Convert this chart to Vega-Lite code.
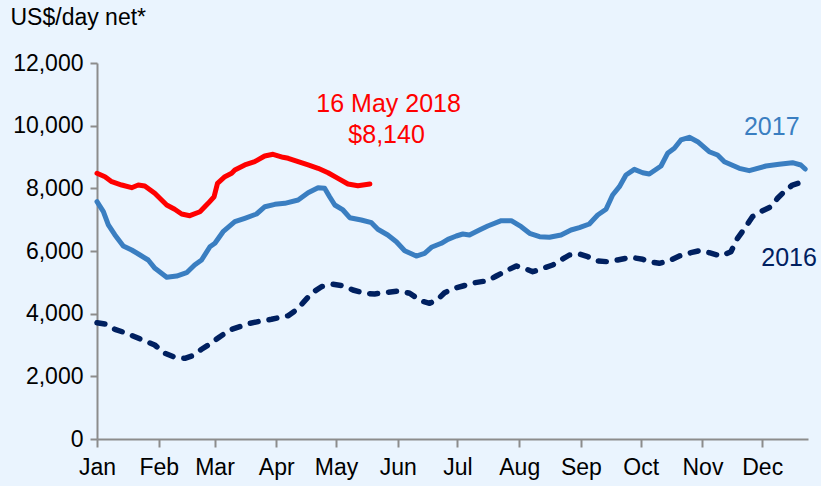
{
  "$schema": "https://vega.github.io/schema/vega-lite/v6.json",
  "width": 711,
  "height": 376,
  "autosize": {"type": "none"},
  "padding": {"left": 97, "top": 63, "right": 13, "bottom": 47},
  "background": "#EAF4FE",
  "config": {
    "view": {"stroke": null},
    "font": "Liberation Sans",
    "axis": {"labelFont": "Liberation Sans", "titleFont": "Liberation Sans"}
  },
  "datasets": {
    "lines": [
      {"series": "2018", "day": 0, "value": 8480},
      {"series": "2018", "day": 4, "value": 8371},
      {"series": "2018", "day": 7.4, "value": 8212},
      {"series": "2018", "day": 12.4, "value": 8106},
      {"series": "2018", "day": 17.4, "value": 8020},
      {"series": "2018", "day": 20.7, "value": 8106},
      {"series": "2018", "day": 24, "value": 8074},
      {"series": "2018", "day": 29, "value": 7842},
      {"series": "2018", "day": 35, "value": 7468},
      {"series": "2018", "day": 39, "value": 7331},
      {"series": "2018", "day": 42.5, "value": 7181},
      {"series": "2018", "day": 46.6, "value": 7127},
      {"series": "2018", "day": 51.7, "value": 7254},
      {"series": "2018", "day": 55.8, "value": 7522},
      {"series": "2018", "day": 58.8, "value": 7733},
      {"series": "2018", "day": 60.5, "value": 8161},
      {"series": "2018", "day": 64.2, "value": 8371},
      {"series": "2018", "day": 67.6, "value": 8480},
      {"series": "2018", "day": 69.2, "value": 8585},
      {"series": "2018", "day": 74.2, "value": 8745},
      {"series": "2018", "day": 79.2, "value": 8850},
      {"series": "2018", "day": 84.2, "value": 9032},
      {"series": "2018", "day": 88.4, "value": 9086},
      {"series": "2018", "day": 93.4, "value": 8990},
      {"series": "2018", "day": 96, "value": 8958},
      {"series": "2018", "day": 101, "value": 8850},
      {"series": "2018", "day": 106, "value": 8745},
      {"series": "2018", "day": 111, "value": 8639},
      {"series": "2018", "day": 116, "value": 8499},
      {"series": "2018", "day": 121, "value": 8320},
      {"series": "2018", "day": 126, "value": 8138},
      {"series": "2018", "day": 131, "value": 8084},
      {"series": "2018", "day": 137, "value": 8140},

      {"series": "2017", "day": 0, "value": 7574},
      {"series": "2017", "day": 3.2, "value": 7254},
      {"series": "2017", "day": 5.7, "value": 6830},
      {"series": "2017", "day": 9, "value": 6511},
      {"series": "2017", "day": 13.2, "value": 6160},
      {"series": "2017", "day": 17.4, "value": 6032},
      {"series": "2017", "day": 21.6, "value": 5872},
      {"series": "2017", "day": 25.7, "value": 5713},
      {"series": "2017", "day": 29.1, "value": 5448},
      {"series": "2017", "day": 35, "value": 5161},
      {"series": "2017", "day": 40, "value": 5202},
      {"series": "2017", "day": 45, "value": 5307},
      {"series": "2017", "day": 49, "value": 5553},
      {"series": "2017", "day": 52.5, "value": 5713},
      {"series": "2017", "day": 56.7, "value": 6137},
      {"series": "2017", "day": 59.2, "value": 6246},
      {"series": "2017", "day": 63.3, "value": 6616},
      {"series": "2017", "day": 69.2, "value": 6935},
      {"series": "2017", "day": 74.2, "value": 7044},
      {"series": "2017", "day": 80.1, "value": 7181},
      {"series": "2017", "day": 84.3, "value": 7414},
      {"series": "2017", "day": 89.3, "value": 7490},
      {"series": "2017", "day": 94.3, "value": 7522},
      {"series": "2017", "day": 101, "value": 7628},
      {"series": "2017", "day": 106, "value": 7861},
      {"series": "2017", "day": 111, "value": 8020},
      {"series": "2017", "day": 114.3, "value": 8001},
      {"series": "2017", "day": 116.8, "value": 7733},
      {"series": "2017", "day": 119.4, "value": 7468},
      {"series": "2017", "day": 123.5, "value": 7309},
      {"series": "2017", "day": 126.9, "value": 7063},
      {"series": "2017", "day": 132.7, "value": 6989},
      {"series": "2017", "day": 137.8, "value": 6903},
      {"series": "2017", "day": 141, "value": 6693},
      {"series": "2017", "day": 146, "value": 6511},
      {"series": "2017", "day": 150.3, "value": 6297},
      {"series": "2017", "day": 154.5, "value": 6010},
      {"series": "2017", "day": 160.3, "value": 5840},
      {"series": "2017", "day": 164.5, "value": 5926},
      {"series": "2017", "day": 167.9, "value": 6118},
      {"series": "2017", "day": 172.9, "value": 6246},
      {"series": "2017", "day": 176.2, "value": 6373},
      {"series": "2017", "day": 180.4, "value": 6479},
      {"series": "2017", "day": 183.7, "value": 6543},
      {"series": "2017", "day": 187, "value": 6511},
      {"series": "2017", "day": 192, "value": 6670},
      {"series": "2017", "day": 196.2, "value": 6798},
      {"series": "2017", "day": 203, "value": 6967},
      {"series": "2017", "day": 208, "value": 6967},
      {"series": "2017", "day": 213, "value": 6776},
      {"series": "2017", "day": 217.2, "value": 6565},
      {"series": "2017", "day": 222.2, "value": 6456},
      {"series": "2017", "day": 227.2, "value": 6437},
      {"series": "2017", "day": 233, "value": 6511},
      {"series": "2017", "day": 238, "value": 6670},
      {"series": "2017", "day": 242.2, "value": 6744},
      {"series": "2017", "day": 247.2, "value": 6862},
      {"series": "2017", "day": 251.4, "value": 7149},
      {"series": "2017", "day": 255.6, "value": 7331},
      {"series": "2017", "day": 258.9, "value": 7787},
      {"series": "2017", "day": 262.3, "value": 8052},
      {"series": "2017", "day": 265.6, "value": 8426},
      {"series": "2017", "day": 269.8, "value": 8607},
      {"series": "2017", "day": 274, "value": 8499},
      {"series": "2017", "day": 277.3, "value": 8457},
      {"series": "2017", "day": 283.2, "value": 8713},
      {"series": "2017", "day": 286.5, "value": 9118},
      {"series": "2017", "day": 289.9, "value": 9278},
      {"series": "2017", "day": 293.2, "value": 9543},
      {"series": "2017", "day": 297.4, "value": 9629},
      {"series": "2017", "day": 301.6, "value": 9488},
      {"series": "2017", "day": 307.4, "value": 9169},
      {"series": "2017", "day": 311.6, "value": 9064},
      {"series": "2017", "day": 315, "value": 8850},
      {"series": "2017", "day": 322.5, "value": 8639},
      {"series": "2017", "day": 327.5, "value": 8563},
      {"series": "2017", "day": 335.9, "value": 8713},
      {"series": "2017", "day": 342.5, "value": 8767},
      {"series": "2017", "day": 349.2, "value": 8818},
      {"series": "2017", "day": 353.4, "value": 8745},
      {"series": "2017", "day": 355.6, "value": 8617},

      {"series": "2016", "day": 0, "value": 3712},
      {"series": "2016", "day": 4, "value": 3670},
      {"series": "2016", "day": 9, "value": 3501},
      {"series": "2016", "day": 14, "value": 3393},
      {"series": "2016", "day": 19, "value": 3265},
      {"series": "2016", "day": 24, "value": 3128},
      {"series": "2016", "day": 29, "value": 3000},
      {"series": "2016", "day": 34.1, "value": 2735},
      {"series": "2016", "day": 39.1, "value": 2607},
      {"series": "2016", "day": 44.1, "value": 2576},
      {"series": "2016", "day": 47.5, "value": 2649},
      {"series": "2016", "day": 52.5, "value": 2863},
      {"series": "2016", "day": 56.7, "value": 3032},
      {"series": "2016", "day": 61.7, "value": 3265},
      {"series": "2016", "day": 66.7, "value": 3479},
      {"series": "2016", "day": 71.7, "value": 3584},
      {"series": "2016", "day": 76.7, "value": 3693},
      {"series": "2016", "day": 82.6, "value": 3766},
      {"series": "2016", "day": 87.6, "value": 3820},
      {"series": "2016", "day": 93.4, "value": 3903},
      {"series": "2016", "day": 96, "value": 3935},
      {"series": "2016", "day": 100, "value": 4117},
      {"series": "2016", "day": 103.5, "value": 4350},
      {"series": "2016", "day": 107.7, "value": 4650},
      {"series": "2016", "day": 112.7, "value": 4861},
      {"series": "2016", "day": 118.5, "value": 4937},
      {"series": "2016", "day": 123.5, "value": 4893},
      {"series": "2016", "day": 128.5, "value": 4755},
      {"series": "2016", "day": 134.4, "value": 4650},
      {"series": "2016", "day": 139.4, "value": 4628},
      {"series": "2016", "day": 146, "value": 4682},
      {"series": "2016", "day": 152, "value": 4723},
      {"series": "2016", "day": 157, "value": 4650},
      {"series": "2016", "day": 162.8, "value": 4404},
      {"series": "2016", "day": 167, "value": 4331},
      {"series": "2016", "day": 171.2, "value": 4459},
      {"series": "2016", "day": 174.5, "value": 4669},
      {"series": "2016", "day": 179.5, "value": 4810},
      {"series": "2016", "day": 183.7, "value": 4883},
      {"series": "2016", "day": 189.6, "value": 4988},
      {"series": "2016", "day": 196.2, "value": 5052},
      {"series": "2016", "day": 200.5, "value": 5202},
      {"series": "2016", "day": 206.3, "value": 5394},
      {"series": "2016", "day": 210.5, "value": 5521},
      {"series": "2016", "day": 214.6, "value": 5448},
      {"series": "2016", "day": 218.8, "value": 5339},
      {"series": "2016", "day": 223.8, "value": 5448},
      {"series": "2016", "day": 228.8, "value": 5553},
      {"series": "2016", "day": 233, "value": 5713},
      {"series": "2016", "day": 237.2, "value": 5872},
      {"series": "2016", "day": 242.2, "value": 5904},
      {"series": "2016", "day": 246.4, "value": 5818},
      {"series": "2016", "day": 251.4, "value": 5681},
      {"series": "2016", "day": 256.4, "value": 5658},
      {"series": "2016", "day": 261.4, "value": 5713},
      {"series": "2016", "day": 268.2, "value": 5799},
      {"series": "2016", "day": 274, "value": 5735},
      {"series": "2016", "day": 277.3, "value": 5658},
      {"series": "2016", "day": 282.3, "value": 5607},
      {"series": "2016", "day": 287.4, "value": 5690},
      {"series": "2016", "day": 292.4, "value": 5840},
      {"series": "2016", "day": 298.2, "value": 5946},
      {"series": "2016", "day": 302.4, "value": 6010},
      {"series": "2016", "day": 307.4, "value": 5946},
      {"series": "2016", "day": 313.3, "value": 5840},
      {"series": "2016", "day": 318.3, "value": 5978},
      {"series": "2016", "day": 321.6, "value": 6405},
      {"series": "2016", "day": 325.8, "value": 6776},
      {"series": "2016", "day": 329.1, "value": 7095},
      {"series": "2016", "day": 334.2, "value": 7286},
      {"series": "2016", "day": 338.4, "value": 7414},
      {"series": "2016", "day": 341.7, "value": 7682},
      {"series": "2016", "day": 345, "value": 7893},
      {"series": "2016", "day": 349.2, "value": 8106},
      {"series": "2016", "day": 352.9, "value": 8180}
    ],
    "labels": [
      {"series": "2018", "day": 146.4, "value": 10436, "text": "16 May 2018"},
      {"series": "2018", "day": 145.4, "value": 9447, "text": "$8,140"},
      {"series": "2017", "day": 338.8, "value": 9702, "text": "2017"},
      {"series": "2016", "day": 347.5, "value": 5521, "text": "2016"}
    ]
  },
  "encoding": {
    "x": {
      "field": "day",
      "type": "quantitative",
      "scale": {"domain": [0, 357], "nice": false, "zero": false},
      "axis": {
        "title": null,
        "values": [0, 31, 59, 90, 120, 151, 181, 212, 243, 273, 304, 334],
        "labelExpr": "['Jan','Feb','Mar','Apr','May','Jun','Jul','Aug','Sep','Oct','Nov','Dec'][indexof([0,31,59,90,120,151,181,212,243,273,304,334], datum.value)]",
        "grid": false,
        "domainColor": "#8C8C8C",
        "domainWidth": 2,
        "tickColor": "#8C8C8C",
        "tickWidth": 2,
        "tickSize": 8,
        "labelFontSize": 23,
        "labelColor": "#000000",
        "labelPadding": 9,
        "labelFlush": false,
        "labelOverlap": false
      }
    },
    "y": {
      "field": "value",
      "type": "quantitative",
      "scale": {"domain": [0, 12000], "nice": false},
      "axis": {
        "title": "US$/day net*",
        "titleAngle": 0,
        "titleAlign": "left",
        "titleBaseline": "alphabetic",
        "titleX": -87,
        "titleY": -39,
        "titleFontSize": 23,
        "titleFontWeight": "normal",
        "titleColor": "#000000",
        "values": [0, 2000, 4000, 6000, 8000, 10000, 12000],
        "format": ",.0f",
        "grid": false,
        "domainColor": "#8C8C8C",
        "domainWidth": 2,
        "tickColor": "#8C8C8C",
        "tickWidth": 2,
        "tickSize": 7,
        "labelFontSize": 23,
        "labelColor": "#000000",
        "labelPadding": 7,
        "labelFlush": false
      }
    },
    "color": {
      "field": "series",
      "type": "nominal",
      "scale": {"domain": ["2018", "2017", "2016"], "range": ["#FF0000", "#3A7EC1", "#002060"]},
      "legend": null
    }
  },
  "layer": [
    {
      "data": {"name": "lines"},
      "transform": [{"filter": "datum.series != '2016'"}],
      "mark": {"type": "line", "strokeWidth": 5, "strokeJoin": "round", "strokeCap": "round"},
      "encoding": {"detail": {"field": "series"}}
    },
    {
      "data": {"name": "lines"},
      "transform": [{"filter": "datum.series == '2016'"}],
      "mark": {"type": "line", "strokeWidth": 5.5, "strokeDash": [8, 11], "strokeCap": "round", "strokeJoin": "round"},
      "encoding": {}
    },
    {
      "data": {"name": "labels"},
      "mark": {"type": "text", "fontSize": 25, "align": "center", "baseline": "alphabetic", "font": "Liberation Sans"},
      "encoding": {"text": {"field": "text"}}
    }
  ]
}
